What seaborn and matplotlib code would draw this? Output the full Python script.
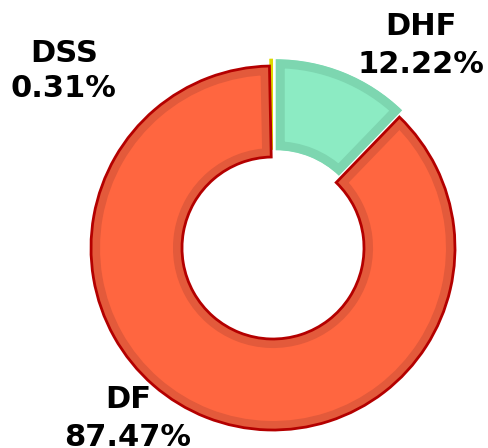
import matplotlib
matplotlib.use("Agg")
import matplotlib.pyplot as plt
import seaborn as sns

sns.set_theme(style="white")
plt.rcParams['font.family'] = ['DejaVu Sans']

# Data
labels = ['DHF', 'DF', 'DSS']
shares = [12.22, 87.47, 0.31]
pct_text = ['12.22%', '87.47%', '0.31%']
fill_colors = ['#8cebc3', '#ff6640', '#ece800']
band_colors = ['#7dd6b0', '#e35a3b', '#dcd800']
outline_colors = ['none', '#b40000', 'none']
explode = [0.04, 0, 0.04]

# label anchors (center x, baseline of name, baseline of percent) in pie units
label_pos = {
    'DHF': (0.815, 1.170, 0.962),
    'DF': (-0.797, -0.879, -1.088),
    'DSS': (-1.150, 1.022, 0.830),
}

fig = plt.figure(figsize=(4.89, 4.48), dpi=100)
ax = fig.add_axes([0, 0, 1, 1])

# filled donut with an inner darker band on each slice
wedges, _ = ax.pie(shares, colors=fill_colors, startangle=90, counterclock=False,
                   explode=explode, radius=1,
                   wedgeprops=dict(width=0.5, linewidth=0))
for w, c in zip(wedges, band_colors):
    w.set_edgecolor(c)
    w.set_linewidth(13)
    w.set_clip_on(True)
    w.set_clip_path(w)  # keep only the inner half of the stroke

# thin dark outline on top
rims, _ = ax.pie(shares, startangle=90, counterclock=False, explode=explode, radius=1,
                 wedgeprops=dict(width=0.5, fill=False, linewidth=2))
for r, c in zip(rims, outline_colors):
    r.set_edgecolor(c)

for lab, pct in zip(labels, pct_text):
    x, y_name, y_pct = label_pos[lab]
    ax.text(x, y_name, lab, ha='center', va='baseline', fontsize=22, fontweight='bold', color='black')
    ax.text(x, y_pct, pct, ha='center', va='baseline', fontsize=22, fontweight='bold', color='black')

ax.set_xlim(-273 / 182, 216 / 182)
ax.set_ylim(-200 / 182, 248 / 182)
ax.set_aspect('auto')
ax.axis('off')

fig.savefig("out.png", dpi=100, facecolor='white')
